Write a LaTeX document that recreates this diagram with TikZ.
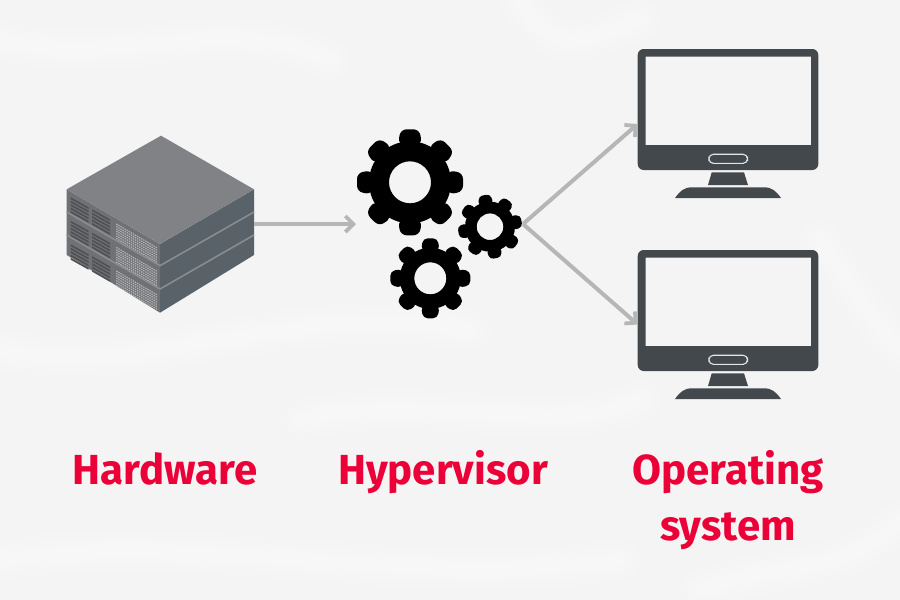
\documentclass[tikz,border=0pt]{standalone}
\usepackage{fontspec}
\setmainfont{Fira Sans}
\usetikzlibrary{arrows.meta}
\definecolor{bgc}{HTML}{F4F4F4}
\definecolor{arrowc}{HTML}{B6B6B6}
\definecolor{monc}{HTML}{43484C}
\definecolor{labelc}{HTML}{EB0038}
\definecolor{srvtop}{HTML}{808285}
\definecolor{srvright}{HTML}{5A6269}
\definecolor{srvleft}{HTML}{6F7174}
\definecolor{srvgap}{HTML}{8A8C8E}
\definecolor{srvdark}{HTML}{4E5053}
\definecolor{srvgrid}{HTML}{B4B5B7}
\tikzset{
  anchorbox/.style={inner sep=0pt,outer sep=0pt,minimum height=#1},
  flow/.style={draw=arrowc,line width=4pt,-{Straight Barb[length=8pt,width=16pt,line width=3.8pt]}},
  lab/.style={text=labelc,font=\fontsize{42}{56}\selectfont\bfseries,align=center,inner sep=0pt},
  texture/.style={draw=white,line cap=round,opacity=.16},
}
% #1 cx, #2 cy, #3 hole r, #4 body r, #5 tip r, #6 tooth width, #7 rotation
\newcommand{\cogwheel}[7]{%
  \fill[black,even odd rule] (#1,#2) circle[radius=#4] (#1,#2) circle[radius=#3];
  \foreach \k in {0,45,...,315}{%
    \fill[black,rounded corners=.3*#6pt,rotate around={\k+#7:(#1,#2)}]
      (#1+#4-3,#2-.6*#6) -- (#5+#1,#2-.47*#6) -- (#5+#1,#2+.47*#6) -- (#1+#4-3,#2+.6*#6) -- cycle;
  }%
}
% #1 vertical offset
\newcommand{\screenicon}[1]{%
  \begin{scope}[yshift=-#1pt]
    \fill[monc,even odd rule,rounded corners=6pt] (637.7,49) rectangle (818.3,170)
      [sharp corners] (645.7,56.7) rectangle (811,145);
    \draw[white!90!black,fill=monc,line width=1.1pt,rounded corners=4.6pt] (708.9,154.2) rectangle (747.5,163.4);
    \fill[monc] (711.7,172.4) -- (744,172.4) -- (748,185) -- (708,185) -- cycle;
    \fill[monc] (675,198) .. controls (680,191) and (684,187.3) .. (692,187.3) -- (764,187.3)
      .. controls (772,187.3) and (776,191) .. (781,198) -- cycle;
  \end{scope}
}
% #1 = downward offset of server layer
\newcommand{\serverfront}[1]{%
  \begin{scope}[yshift=-#1pt]
    \foreach \a in {0,1,2,3,4}{%
      \fill[srvdark] (70.7,197.3+\a*3.4) -- (88.5,207.3+\a*3.4) -- (88.5,209.1+\a*3.4) -- (70.7,199.1+\a*3.4) -- cycle;
      \fill[srvdark] (92,209.2+\a*3.4) -- (110,219.4+\a*3.4) -- (110,221.2+\a*3.4) -- (92,211+\a*3.4) -- cycle;
    }
    \foreach \a in {0,...,6}{%
      \draw[srvgrid,line width=1.15pt,dash pattern=on 1.4pt off 1pt]
        (116.3,224+\a*2.4) -- (157,247.8+\a*2.4);
    }
  \end{scope}
}
\begin{document}
\begin{tikzpicture}[x=1pt,y=-1pt]
\useasboundingbox (0,0) rectangle (900,600);
\fill[bgc] (0,0) rectangle (900,600);
% marble texture of the background
\foreach \w in {40,26,14}{%
  \draw[texture,line width=\w pt] (0,40) .. controls (120,70) and (220,10) .. (330,60);
  \draw[texture,line width=\w pt] (520,0) .. controls (560,70) and (600,30) .. (640,20);
  \draw[texture,line width=\w pt] (0,350) .. controls (150,380) and (280,300) .. (470,330);
  \draw[texture,line width=\w pt] (300,420) .. controls (420,390) and (560,440) .. (640,400);
  \draw[texture,line width=\w pt] (820,240) .. controls (860,300) and (880,330) .. (900,350);
  \draw[texture,line width=\w pt] (0,560) .. controls (200,530) and (400,590) .. (620,560);
  \draw[texture,line width=\w pt] (700,590) .. controls (780,560) and (840,580) .. (900,520);
}
% server stack
\fill[srvleft] (66.7,189.3) -- (160,244) -- (160,312.7) -- (66.7,255) -- cycle;
\fill[srvright] (160,244) -- (254,189.3) -- (254,255) -- (160,312.7) -- cycle;
\draw[srvgap,line width=1.6pt] (66.7,212) -- (160,265.7) -- (254,212);
\draw[srvgap,line width=1.6pt] (66.7,235) -- (160,289) -- (254,235);
\fill[srvtop] (161,135.7) -- (254,189.3) -- (160,244) -- (66.7,189.3) -- cycle;
\serverfront{0}
\serverfront{23.5}
\serverfront{47}
% icon anchors
\node[anchorbox=60pt,minimum width=187.3pt] (hw) at (160.35,224) {};
\node[anchorbox=60pt,minimum width=167pt] (hv) at (439.5,224) {};
\node[anchorbox=121pt,minimum width=180.6pt] (os1) at (728,124) {};
\node[anchorbox=121pt,minimum width=180.6pt] (os2) at (728,324.5) {};
% gears
\cogwheel{410}{182.3}{21}{41}{53}{20}{0}
\cogwheel{490}{226.7}{13.3}{25}{32}{12.5}{10}
\cogwheel{430.3}{278.3}{16}{30.5}{40}{15.5}{0}
% monitors
\screenicon{0}
\screenicon{201}
% connectors
\draw[flow] (hw.east) -- (hv.west);
\draw[flow] (hv.east) -- (os1.west);
\draw[flow] (hv.east) -- (os2.west);
% labels
\node[lab,anchor=base] (t1) at (165,484) {Hardware};
\node[lab,anchor=base] (t2) at (443,484) {Hypervisor};
\node[lab,anchor=base] (t3) at (728,484) {Operating};
\node[lab,anchor=base] (t4) at (728,540) {system};
\end{tikzpicture}
\end{document}
